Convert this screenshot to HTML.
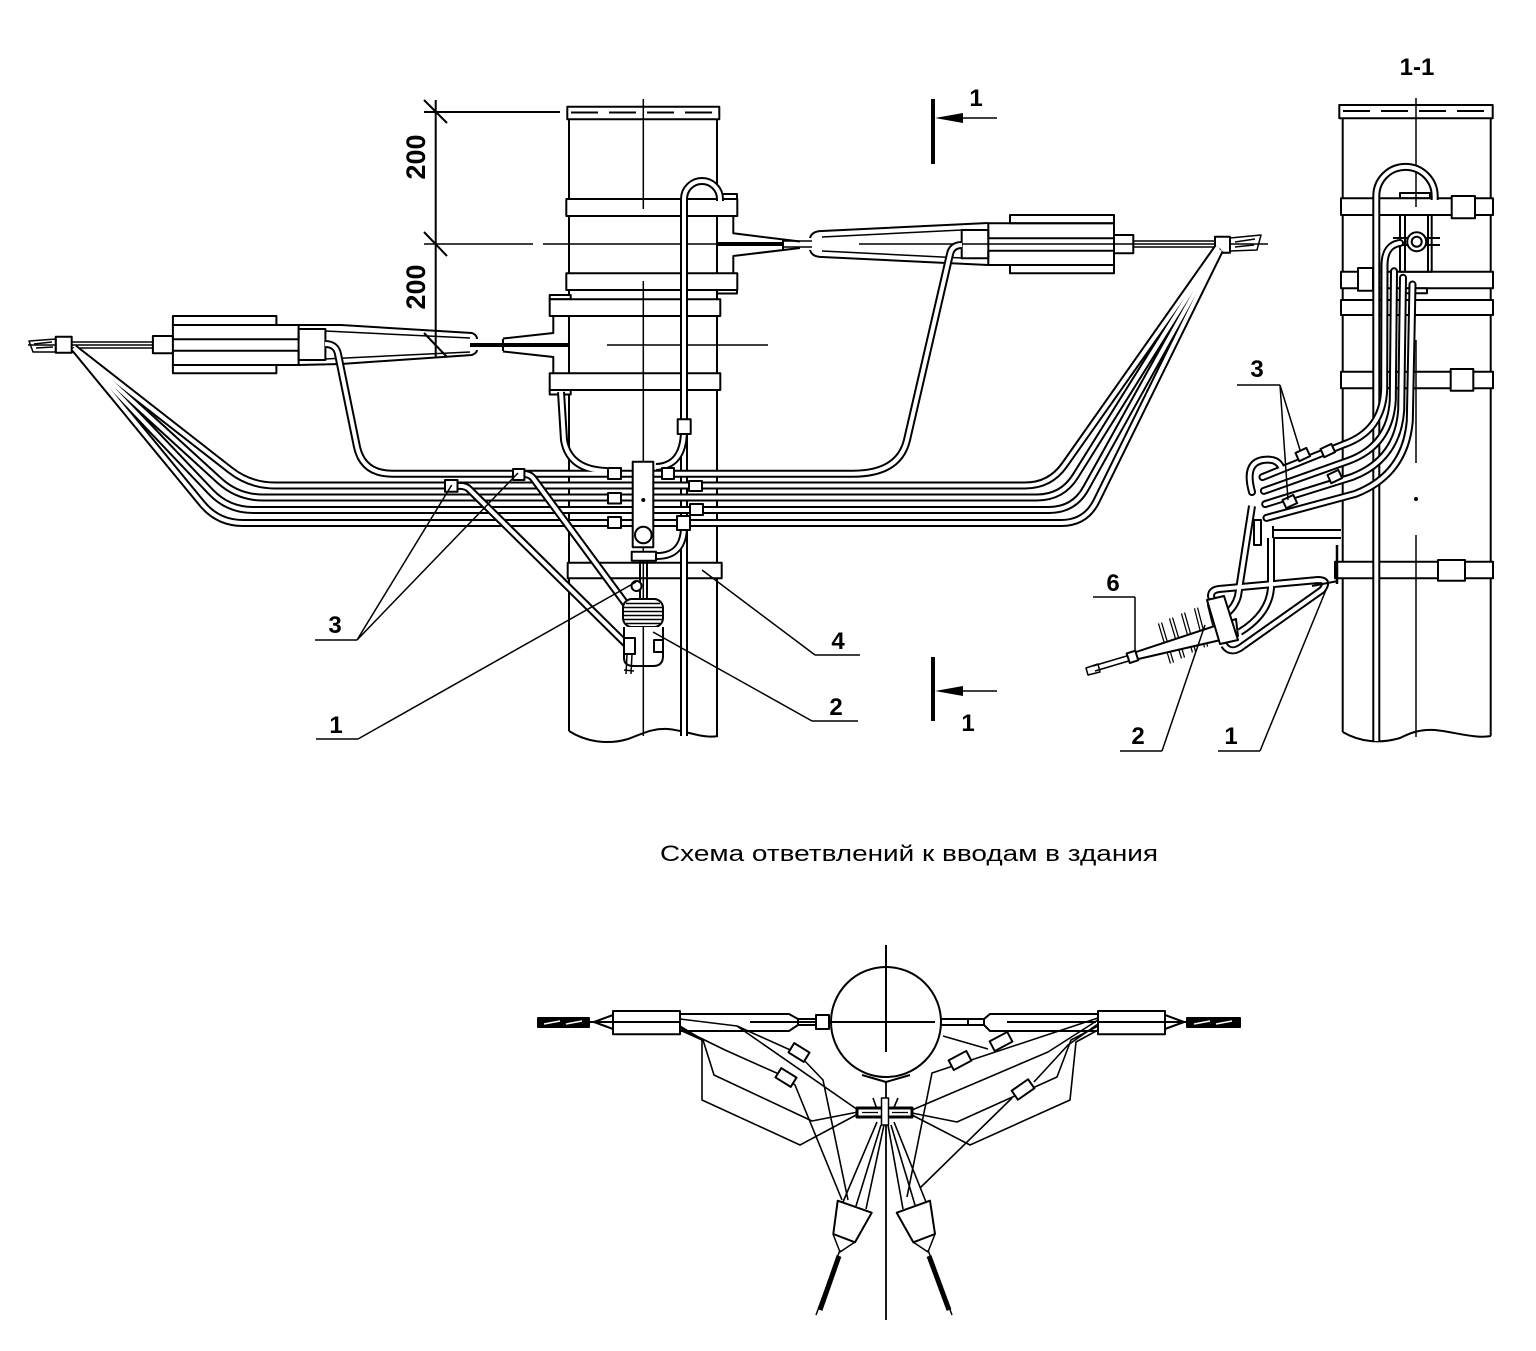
<!DOCTYPE html>
<html><head><meta charset="utf-8">
<style>
html,body{margin:0;padding:0;background:#fff}
svg{display:block}
text{font-family:"Liberation Sans",Arial,sans-serif;fill:#000;stroke:none}
.tb{stroke:#000;stroke-width:8;fill:none}
.tw{stroke:#fff;stroke-width:4;fill:none}
.fb{stroke:#000;stroke-width:4.5;fill:none}
.fw{stroke:#fff;stroke-width:2;fill:none}
.rc{stroke-linecap:round}
</style></head><body>
<svg width="1536" height="1351" viewBox="0 0 1536 1351" xmlns="http://www.w3.org/2000/svg">
<rect width="1536" height="1351" fill="#fff"/>
<defs>
<path id="b0" d="M74,348 L230.3,470.1 Q250,485.5 275,485.5 L1025,485.5 Q1050,485.5 1064.4,465.1 L1218,247"/>
<path id="b1" d="M74,348 L219.5,480.7 Q238,497.5 263,497.5 L1037,497.5 Q1062,497.5 1075.3,476.3 L1218,248"/>
<path id="b2" d="M74,348 L210.8,491.9 Q228,510 253,510 L1049,510 Q1074,510 1086,488.1 L1219,249"/>
<path id="b3" d="M74,348 L202.1,503.7 Q218,523 243,523 L1061,523 Q1086,523 1096.8,500.4 L1220,250"/>
<path id="tt" d="M325,344 Q336,344 338,354 L357,447 Q363,473.7 392,473.7 L853,473.7 Q899,473.7 907,440 L950,254 Q952,245 962,245"/>
<path id="tu" d="M561,392 L564,440 Q569,470 607,471"/>
<path id="tbr" d="M684,432 Q683,466 656,467"/>
<path id="ta" d="M457,486 Q466,485 470,490 L628,646"/>
<path id="tb2" d="M520,474 Q529,473 533,478 L628,607"/>
<path id="vp" d="M684,736 L684,199 A18,18 0 0 1 720,199 L720,201"/>
<path id="vp2" d="M684,526 Q684,556 657,556"/>
<path id="rp" d="M1376.3,741 L1376.3,196 A29.2,29.2 0 0 1 1434.7,196 L1434.7,200"/>
<path id="r0" d="M1400,243 Q1385,245 1384.5,264.5 L1384.2,389 Q1382.8,430.5 1344.4,444.2 L1262.5,477.1"/>
<path id="r1" d="M1394,271.3 L1392.8,399.8 Q1390.4,445.4 1348.2,460.9 L1263.9,490.9"/>
<path id="r2" d="M1403,277.8 L1401.2,410.2 Q1397.6,459.7 1351.8,477.1 L1265.2,504.1"/>
<path id="r3" d="M1412.5,284.5 L1409.8,421 Q1405.2,474.5 1355.6,493.8 L1266.5,517.9"/>
<path id="rl" d="M1252,492 Q1244,463 1263,460 Q1277,458 1281,467"/>
<path id="rpP" d="M1252,506 L1238,596 Q1235,607 1226,614"/>
<path id="rpQ" d="M1271,538 L1271,588 Q1269,614 1240,632"/>
<path id="hk" d="M1214,607 L1211,596 Q1211,590 1219,589 L1318,580 Q1330,580 1322,590 L1240,648 Q1230,654 1224,645"/>
<path id="fins" d="M1160,623 L1172,663 M1171,618 L1183,658 M1183,613 L1194,652 M1196,608 L1206,647 M1209,604 L1218,640"/>
</defs>

<g fill="none" stroke="#000" stroke-width="2" stroke-linejoin="round">
<!-- ===== MAIN POLE ===== -->
<line x1="569" y1="112" x2="569" y2="731"/>
<line x1="717" y1="112" x2="717" y2="737"/>
<path d="M569,731 C586,742 608,745 628,739 C642,734 652,728 668,729 C688,731 703,739 718,736"/>
<rect x="567.3" y="106.7" width="152" height="12.6" fill="#fff"/>
<line x1="571" y1="112.5" x2="717" y2="112.5" stroke-dasharray="27,11"/>
<g fill="#fff">
<rect x="717" y="194" width="20" height="5"/>
<rect x="566.3" y="199" width="171" height="17"/>
<rect x="566.3" y="273.3" width="171" height="16.7"/>
<rect x="717" y="290" width="20" height="3.5"/>
<rect x="549.7" y="295" width="21" height="4.3"/>
<rect x="549.7" y="299.3" width="170.6" height="16.7"/>
<rect x="549.7" y="373.3" width="170.6" height="16.7"/>
<rect x="549.7" y="390" width="21" height="4.5"/>
<rect x="567.7" y="562.7" width="154" height="15.6"/>
</g>
<polyline points="733.3,216 733.3,233.3 800,241.5"/>
<polyline points="733.3,273.3 733.3,256 800,248"/>
<polyline points="553.3,316 553.3,333 503,338.5"/>
<polyline points="553.3,373.3 553.3,357 503,351.5"/>
<g stroke-width="1.5">
<line x1="643.3" y1="99" x2="643.3" y2="209"/>
<line x1="643.3" y1="281" x2="643.3" y2="736"/>
<line x1="424" y1="244" x2="533" y2="244"/>
<line x1="543" y1="244" x2="717" y2="244"/>
<line x1="859" y1="244" x2="1268" y2="244"/>
<line x1="607" y1="345" x2="768" y2="345"/>
<line x1="28" y1="345" x2="153" y2="345"/>
</g>
<!-- dimension -->
<line x1="435.7" y1="100" x2="435.7" y2="357"/>
<line x1="424" y1="112" x2="560" y2="112"/>
<line x1="424" y1="100" x2="447" y2="123"/>
<line x1="424" y1="232" x2="447" y2="256"/>
<line x1="424" y1="333" x2="447" y2="357"/>

<!-- wires to connectors -->
<line x1="717" y1="244" x2="783" y2="244" stroke-width="4"/>
<line x1="783" y1="239" x2="783" y2="249"/>
<path d="M783,241 L812,241 M783,247 L812,247" stroke-width="1.5"/>
<line x1="470" y1="345" x2="568" y2="345" stroke-width="4"/>
<line x1="503" y1="339" x2="503" y2="351"/>
<!-- right connector -->
<path d="M810,238 Q812,231 822,231 L988,223"/>
<path d="M822,237 L962,230" stroke-width="1.5"/>
<path d="M810,250 Q812,257 822,257 L988,265"/>
<path d="M822,251 L962,258" stroke-width="1.5"/>
<rect x="961.7" y="230" width="26.6" height="28.3"/>
<rect x="1010" y="215" width="104" height="8.3"/>
<rect x="988.3" y="223.3" width="125.7" height="15"/>
<rect x="988.3" y="250.7" width="125.7" height="14.3"/>
<rect x="1010" y="265" width="104" height="8.3"/>
<rect x="1114" y="235" width="19.3" height="18.3"/>
<path d="M1133,241 L1215,241 M1133,247 L1215,247" stroke-width="1.5"/>
<rect x="1215" y="236.7" width="15" height="16" fill="#fff"/>
<path d="M1230,238 L1261,235 L1257,250 L1230,251" stroke-width="1.5"/>
<path d="M1235,242 L1255,239 M1235,247 L1254,245" stroke-width="1.5"/>
<!-- left connector -->
<path d="M298.6,325 L341,325 L472,333 Q477,335 477,339"/>
<path d="M325,331 L470,338" stroke-width="1.5"/>
<path d="M298.6,365 L341,364 L472,355 Q477,353 477,350"/>
<path d="M325,359 L470,352" stroke-width="1.5"/>
<rect x="152.9" y="336" width="20" height="17.3"/>
<rect x="172.9" y="316" width="103.5" height="9"/>
<rect x="172.9" y="325" width="125.7" height="14.3"/>
<rect x="172.9" y="350.7" width="125.7" height="14.3"/>
<rect x="172.9" y="365" width="103.5" height="8.3"/>
<rect x="298.6" y="329" width="26.8" height="31"/>
<path d="M72,342 L153,342 M72,348 L153,348" stroke-width="1.5"/>
<rect x="55.7" y="336.7" width="16" height="16" fill="#fff"/>
<path d="M29,341 L56,339 L56,352 L33,352 Z" stroke-width="1.5"/>
<path d="M34,344 L52,342 M36,348 L53,347" stroke-width="1.5"/>

<!-- vertical pipe -->
<use href="#vp" class="tb"/><use href="#vp" class="tw"/>
<use href="#tt" class="tb"/><use href="#tu" class="tb"/><use href="#tbr" class="tb"/>
<use href="#tt" class="tw"/><use href="#tu" class="tw"/><use href="#tbr" class="tw"/>
<use href="#b0" class="tb"/><use href="#b1" class="tb"/><use href="#b2" class="tb"/><use href="#b3" class="tb"/>
<use href="#b0" class="tw"/><use href="#b1" class="tw"/><use href="#b2" class="tw"/><use href="#b3" class="tw"/>
<use href="#ta" class="tb"/><use href="#tb2" class="tb"/><use href="#vp2" class="tb"/>
<use href="#ta" class="tw"/><use href="#tb2" class="tw"/><use href="#vp2" class="tw"/>

<!-- squares -->
<g fill="#fff">
<rect x="445" y="480" width="12.5" height="11.7"/>
<rect x="513" y="469" width="11.4" height="11"/>
<rect x="608" y="468" width="13" height="11"/>
<rect x="608" y="493" width="13" height="10.5"/>
<rect x="608" y="517" width="13" height="11"/>
<rect x="662" y="468" width="12" height="11"/>
<rect x="689" y="481" width="13" height="10"/>
<rect x="690" y="504" width="13" height="11"/>
<rect x="677.7" y="419.3" width="13" height="14.7"/>
<rect x="677" y="516" width="13" height="14"/>
<rect x="632.7" y="461.7" width="20.6" height="85.6"/>
<rect x="631.7" y="551.7" width="24.3" height="9"/>
</g>
<circle cx="643.3" cy="535" r="8.3"/>
<circle cx="643.3" cy="500" r="1" fill="#000"/>
<!-- insulator main view -->
<line x1="640" y1="561" x2="640" y2="600"/>
<line x1="647" y1="561" x2="647" y2="600"/>
<circle cx="636.5" cy="586" r="5" fill="#fff"/>
<rect x="623" y="599" width="40" height="28" rx="9" fill="#fff"/>
<path d="M626,603.5 L660,603.5 M624,607.5 L662,607.5 M624,611.5 L662,611.5 M624,615.5 L662,615.5 M624,619.5 L662,619.5 M626,623.5 L660,623.5" stroke-width="1.6"/>
<path d="M624,627 L624,658 Q624,666 634,666 L653,666 Q663,666 663,656 L663,627" fill="#fff"/>
<line x1="643.3" y1="627" x2="643.3" y2="666" stroke-width="1.5"/>
<rect x="654" y="640" width="9" height="12"/>
<rect x="624" y="638" width="11" height="16" fill="#fff"/>
<path d="M627,654 L626,674 M632,654 L631,674 M624,670 L634,671" stroke-width="1.5"/>

<!-- leaders main -->
<g stroke-width="1.5">
<line x1="315" y1="640" x2="357" y2="640"/>
<line x1="357" y1="640" x2="451.7" y2="485"/>
<line x1="357" y1="640" x2="518" y2="473"/>
<line x1="316" y1="739" x2="358" y2="739"/>
<line x1="358" y1="739" x2="636" y2="582"/>
<line x1="812" y1="721" x2="858" y2="721"/>
<line x1="812" y1="721" x2="653" y2="632"/>
<line x1="815" y1="655" x2="860" y2="655"/>
<line x1="815" y1="655" x2="702" y2="570"/>
</g>
<!-- section marks -->
<line x1="933" y1="99" x2="933" y2="164" stroke-width="4"/>
<line x1="958" y1="118" x2="997" y2="118" stroke-width="1.5"/>
<polygon points="935,118 963,113 963,123" fill="#000" stroke="none"/>
<line x1="933" y1="657" x2="933" y2="721" stroke-width="4"/>
<line x1="958" y1="691" x2="997" y2="691" stroke-width="1.5"/>
<polygon points="935,691 963,686 963,696" fill="#000" stroke="none"/>

<!-- ===== SECTION 1-1 ===== -->
<line x1="1342.7" y1="112" x2="1342.7" y2="732"/>
<line x1="1490.7" y1="112" x2="1490.7" y2="736"/>
<path d="M1342.7,732 C1360,742 1380,744 1400,738 C1410,733 1420,729 1435,730 C1455,732 1475,739 1491,736"/>
<rect x="1339.3" y="105" width="153.4" height="13.3" fill="#fff"/>
<line x1="1343" y1="111" x2="1490" y2="111" stroke-dasharray="27,11"/>
<g fill="#fff">
<rect x="1400" y="193" width="30" height="5.3"/>
<rect x="1341" y="198.3" width="152" height="16.7"/>
<rect x="1451.7" y="196" width="23.3" height="22.3"/>
<rect x="1341" y="271.7" width="152" height="16.6"/>
<rect x="1358" y="268" width="15" height="22.7"/>
<rect x="1400" y="288.3" width="27" height="5"/>
<rect x="1341" y="300" width="152" height="15"/>
<rect x="1341" y="371.7" width="152" height="16.6"/>
<rect x="1450.7" y="369" width="22.6" height="21.7"/>
<rect x="1335" y="561.7" width="158" height="16.6"/>
<rect x="1438" y="560" width="27" height="20.7"/>
</g>
<g stroke-width="1.5">
<line x1="1416" y1="98" x2="1416" y2="207"/>
<line x1="1416" y1="340" x2="1416" y2="463"/>
<line x1="1416" y1="535" x2="1416" y2="737"/>
</g>
<circle cx="1416" cy="499" r="1" fill="#000"/>
<use href="#rp" class="tb"/><use href="#rp" class="tw"/>
<rect x="1400" y="215" width="31.7" height="56.7" fill="#fff"/>
<line x1="1405" y1="215" x2="1405" y2="271.7"/>
<line x1="1428" y1="215" x2="1428" y2="271.7"/>
<path d="M1393,238 L1440,238 M1393,245 L1440,245" stroke-width="2"/>
<circle cx="1416.7" cy="241.7" r="9.5" fill="#fff"/>
<circle cx="1416.7" cy="241.7" r="5"/>
<g class="rc">
<use href="#r0" class="tb"/><use href="#r1" class="tb"/><use href="#r2" class="tb"/><use href="#r3" class="tb"/><use href="#rl" class="tb"/>
<use href="#r0" class="tw"/><use href="#r1" class="tw"/><use href="#r2" class="tw"/><use href="#r3" class="tw"/><use href="#rl" class="tw"/>
</g>
<g fill="#fff">
<rect x="1297" y="450" width="12" height="9" transform="rotate(-25 1303 455)"/>
<rect x="1322" y="446" width="12" height="9" transform="rotate(-25 1328 451)"/>
<rect x="1329" y="472" width="12" height="9" transform="rotate(-25 1335 477)"/>
<rect x="1284" y="497" width="12" height="9" transform="rotate(-25 1290 502)"/>
</g>
<path d="M1273,530 L1341,530 M1273,538 L1341,538 M1273,526 L1273,542"/>
<rect x="1254" y="520" width="7" height="25" fill="#fff"/>
<use href="#rpP" class="tb"/><use href="#rpQ" class="tb"/><use href="#hk" class="tb"/>
<use href="#rpP" class="tw"/><use href="#rpQ" class="tw"/><use href="#hk" class="tw"/>
<line x1="1312" y1="586" x2="1338" y2="581"/>
<line x1="1337" y1="545" x2="1337" y2="584" stroke-width="2.5"/>
<use href="#fins" class="fb"/><use href="#fins" class="fw"/>
<polygon points="1130,654 1236,619 1238,636 1134,660" fill="#fff"/>
<polygon points="1207,600 1224,596 1238,640 1220,644" fill="#fff"/>
<path d="M1093,666 L1130,655 M1095,671 L1132,660" stroke-width="1.5"/>
<rect x="1128" y="652" width="9" height="10" fill="#fff" transform="rotate(-18 1132 657)"/>
<path d="M1086,668 L1098,664 L1100,672 L1088,675 Z" stroke-width="1.5"/>
<g stroke-width="1.5">
<line x1="1237" y1="385" x2="1280" y2="385"/>
<line x1="1280" y1="385" x2="1300" y2="450"/>
<line x1="1280" y1="385" x2="1288" y2="500"/>
<line x1="1093" y1="597" x2="1135" y2="597"/>
<line x1="1135" y1="597" x2="1135" y2="652"/>
<line x1="1120" y1="751" x2="1162" y2="751"/>
<line x1="1162" y1="751" x2="1205" y2="625"/>
<line x1="1218" y1="751" x2="1260" y2="751"/>
<line x1="1260" y1="751" x2="1328" y2="585"/>
</g>

<!-- ===== BOTTOM DIAGRAM ===== -->
<circle cx="886" cy="1022" r="55"/>
<line x1="886" y1="945" x2="886" y2="1052"/>
<line x1="886" y1="1082" x2="886" y2="1320" stroke-width="1.8"/>
<line x1="750" y1="1022" x2="935" y2="1022"/>
<line x1="1007" y1="1022" x2="1096" y2="1022"/>
<path d="M680,1014 L789,1014 L798,1019 M680,1031 L789,1031 L798,1025"/>
<rect x="798" y="1019" width="18" height="6"/>
<rect x="816" y="1015" width="13" height="14" fill="#fff"/>
<rect x="941" y="1019" width="43" height="6"/>
<line x1="968" y1="1019" x2="968" y2="1025"/>
<path d="M984,1019 L990,1014 L1098,1014 M984,1025 L990,1031 L1098,1031"/>
<rect x="613" y="1011" width="67" height="23.3" fill="#fff"/>
<rect x="1098" y="1011" width="67" height="23.3" fill="#fff"/>
<line x1="589" y1="1022" x2="680" y2="1022"/>
<line x1="1098" y1="1022" x2="1187" y2="1022"/>
<path d="M613,1015 L594,1022 L613,1029"/>
<path d="M1165,1015 L1184,1022 L1165,1029"/>
<rect x="538" y="1018" width="51" height="9" fill="#000"/>
<path d="M544,1024 L560,1021 M566,1024 L582,1021" stroke="#fff" stroke-width="1.5"/>
<rect x="1187" y="1018" width="53" height="9" fill="#000"/>
<path d="M1194,1024 L1210,1021 M1216,1024 L1232,1021" stroke="#fff" stroke-width="1.5"/>
<path d="M862,1075 L886,1082 L910,1075"/>
<g stroke-width="1.6">
<polyline points="680,1026 703,1040 714,1075 812,1121 858,1112"/>
<polyline points="680,1030 702,1040 702,1100 800,1145 858,1114"/>
<polyline points="680,1019 737,1026 797,1053"/>
<line x1="737" y1="1026" x2="858" y2="1110"/>
<polyline points="802,1058 823,1080 848,1200"/>
<polyline points="680,1028 725,1050 781,1075"/>
<polyline points="791,1082 795,1085 842,1200"/>
<polyline points="1098,1026 1071,1040 1057,1077 957,1122 912,1113"/>
<polyline points="1098,1030 1076,1042 1070,1100 970,1145 912,1115"/>
<polyline points="1098,1018 932,1073 907,1197"/>
<polyline points="1098,1020 1048,1052 912,1110"/>
<polyline points="1098,1024 1068,1045 1034,1082"/>
<line x1="1012" y1="1098" x2="920" y2="1188"/>
<line x1="943" y1="1036" x2="988" y2="1049"/>
<line x1="877" y1="1122" x2="843" y2="1202"/>
<line x1="881" y1="1125" x2="856" y2="1206"/>
<line x1="884" y1="1125" x2="866" y2="1209"/>
<line x1="888" y1="1125" x2="903" y2="1209"/>
<line x1="891" y1="1125" x2="915" y2="1205"/>
<line x1="894" y1="1122" x2="926" y2="1202"/>
<line x1="873" y1="1098" x2="878" y2="1112"/>
<line x1="898" y1="1098" x2="892" y2="1112"/>
</g>
<rect x="790" y="1047" width="18" height="11" fill="#fff" transform="rotate(32 799 1052.5)"/>
<rect x="777" y="1072" width="18" height="11" fill="#fff" transform="rotate(32 786 1077.5)"/>
<rect x="991" y="1036" width="20" height="11" fill="#fff" transform="rotate(-28 1001 1041.5)"/>
<rect x="950" y="1055" width="20" height="11" fill="#fff" transform="rotate(-28 960 1060.5)"/>
<rect x="1013" y="1084" width="20" height="11" fill="#fff" transform="rotate(-35 1023 1089.5)"/>
<rect x="857" y="1108" width="55" height="9" fill="#fff" stroke-width="3"/>
<path d="M862,1112.5 L878,1112.5 M892,1112.5 L908,1112.5" stroke-width="1.2"/>
<rect x="881.5" y="1098" width="7" height="27" fill="#fff" stroke-width="1.5"/>
<polygon points="837.7,1200.7 871.7,1212.7 855,1242.3 833.3,1234" fill="#fff"/>
<polygon points="896.7,1212.7 930,1200.7 935,1234 913.3,1242.3" fill="#fff"/>
<path d="M833,1234 L840,1252 L855,1242 M935,1234 L928,1252 L913,1242" stroke-width="1.5"/>
<line x1="839" y1="1256" x2="820" y2="1310" stroke-width="5"/>
<line x1="840" y1="1250" x2="816" y2="1315" stroke-width="1.5"/>
<line x1="929" y1="1256" x2="949" y2="1310" stroke-width="5"/>
<line x1="928" y1="1250" x2="952" y2="1315" stroke-width="1.5"/>
</g>

<!-- TEXT -->
<text transform="translate(425,157) rotate(-90)" text-anchor="middle" font-size="27" font-weight="bold">200</text>
<text transform="translate(425,287) rotate(-90)" text-anchor="middle" font-size="27" font-weight="bold">200</text>
<text x="976" y="106" font-size="24" font-weight="bold" text-anchor="middle">1</text>
<text x="968" y="731" font-size="24" font-weight="bold" text-anchor="middle">1</text>
<text x="335" y="633" font-size="24" font-weight="bold" text-anchor="middle">3</text>
<text x="336" y="733" font-size="24" font-weight="bold" text-anchor="middle">1</text>
<text x="836" y="715" font-size="24" font-weight="bold" text-anchor="middle">2</text>
<text x="838" y="649" font-size="24" font-weight="bold" text-anchor="middle">4</text>
<text x="1417" y="75" font-size="24" font-weight="bold" text-anchor="middle">1-1</text>
<text x="1257" y="377" font-size="24" font-weight="bold" text-anchor="middle">3</text>
<text x="1113" y="591" font-size="24" font-weight="bold" text-anchor="middle">6</text>
<text x="1138" y="744" font-size="24" font-weight="bold" text-anchor="middle">2</text>
<text x="1231" y="744" font-size="24" font-weight="bold" text-anchor="middle">1</text>
<text x="660" y="861" font-size="22" textLength="498" lengthAdjust="spacingAndGlyphs">Схема ответвлений к вводам в здания</text>
</svg>
</body></html>
